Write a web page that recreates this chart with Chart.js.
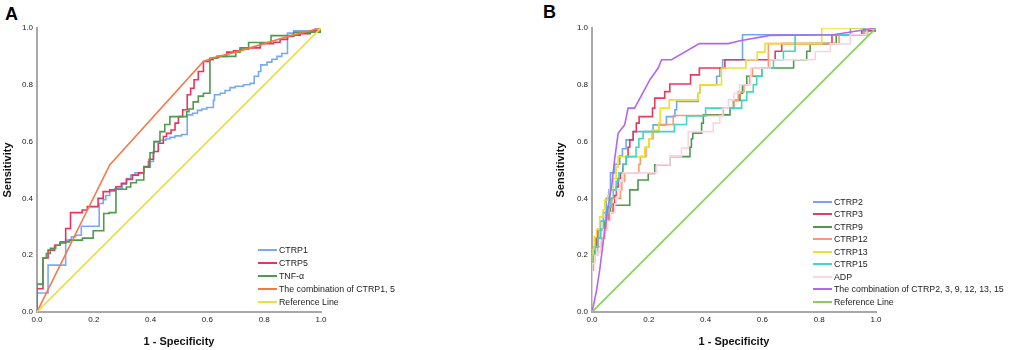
<!DOCTYPE html>
<html><head><meta charset="utf-8">
<script src="https://cdn.jsdelivr.net/npm/chart.js@4.4.1/dist/chart.umd.min.js"></script>
<style>
html,body{margin:0;padding:0;background:#fff;width:1021px;height:350px;overflow:hidden;font-family:"Liberation Sans",Arial,sans-serif;}
.panel{position:absolute;top:0;height:350px;}
#pa{left:0;width:510px;} #pb{left:552px;width:469px;}
.tag{position:absolute;font-weight:bold;font-size:18px;line-height:18px;color:#000;}
.legend{position:absolute;font-size:8.8px;color:#222;}
.legend .row{display:flex;align-items:center;white-space:nowrap;}
.legend .sw{width:19px;height:2px;margin-right:2px;flex:none;}
</style></head>
<body>
<div class="tag" style="left:5px;top:4.6px">A</div>
<div class="tag" style="left:543px;top:2.6px">B</div>
<div class="panel" id="pa"><canvas id="ca" width="510" height="350"></canvas></div>
<div class="panel" id="pb"><canvas id="cb" width="469" height="350"></canvas></div>
<div class="legend" id="la" style="left:258px;top:243px"></div>
<div class="legend" id="lb" style="left:813px;top:195.5px"></div>
<script>
// ---------- Panel A data (x = 1 - Specificity, y = Sensitivity) ----------
const aLabels = ['CTRP1', 'CTRP5', 'TNF-\u03b1', 'The combination of CTRP1, 5', 'Reference Line'];
const aCtrp1X = [0,0,0.039,0.101,0.121,0.136,0.156,0.219,0.233,0.242,0.256,0.274,0.30,0.315,0.33,0.345,0.376,0.392,0.41,0.412,0.433,0.454,0.468,0.486,0.509,0.529,0.548,0.565,0.58,0.598,0.621,0.625,0.645,0.662,0.68,0.698,0.727,0.75,0.765,0.78,0.788,0.81,0.827,0.845,0.862,0.882,0.904,0.98,1];
const aCtrp1Y = [0,0.067,0.165,0.253,0.265,0.27,0.302,0.382,0.395,0.41,0.425,0.435,0.45,0.47,0.482,0.49,0.51,0.53,0.56,0.60,0.605,0.61,0.615,0.62,0.625,0.694,0.70,0.71,0.715,0.72,0.745,0.765,0.77,0.78,0.79,0.795,0.80,0.805,0.83,0.847,0.87,0.88,0.89,0.90,0.91,0.982,0.99,1,1];
const aCtrp5X = [0,0,0.021,0.039,0.062,0.08,0.101,0.118,0.159,0.177,0.215,0.233,0.256,0.278,0.297,0.315,0.336,0.357,0.376,0.395,0.41,0.427,0.445,0.456,0.472,0.486,0.498,0.513,0.529,0.541,0.553,0.568,0.586,0.607,0.62,0.639,0.668,0.692,0.715,0.745,0.786,0.833,0.856,0.882,0.904,0.927,0.962,1];
const aCtrp5Y = [0,0.082,0.19,0.218,0.235,0.243,0.294,0.35,0.359,0.371,0.40,0.424,0.43,0.441,0.453,0.467,0.482,0.49,0.512,0.538,0.565,0.594,0.618,0.629,0.641,0.665,0.688,0.712,0.765,0.788,0.818,0.847,0.882,0.888,0.895,0.90,0.915,0.92,0.925,0.93,0.945,0.95,0.96,0.97,0.975,0.98,0.99,1];
const aTnfX = [0,0,0.021,0.033,0.047,0.066,0.082,0.115,0.16,0.198,0.235,0.254,0.278,0.315,0.33,0.35,0.376,0.398,0.412,0.433,0.45,0.468,0.527,0.535,0.55,0.568,0.586,0.609,0.633,0.70,0.715,0.745,0.824,0.904,1];
const aTnfY = [0,0.098,0.19,0.206,0.224,0.235,0.247,0.253,0.26,0.286,0.347,0.35,0.432,0.44,0.455,0.465,0.51,0.561,0.60,0.635,0.66,0.688,0.705,0.715,0.74,0.76,0.77,0.894,0.90,0.915,0.93,0.949,0.973,0.985,1];
const aComboX = [0,0.256,0.586,0.62,0.70,0.80,0.90,1];
const aComboY = [0,0.518,0.882,0.895,0.915,0.945,0.975,1];
const aRefX = [0,1];
const aRefY = [0,1];

// ---------- Panel B data ----------
const bLabels = ['CTRP2','CTRP3','CTRP9','CTRP12','CTRP13','CTRP15','ADP','The combination of CTRP2, 3, 9, 12, 13, 15','Reference Line'];
const bCtrp2X = [0,0,0.01,0.02,0.03,0.04,0.05,0.06,0.065,0.08,0.098,0.107,0.12,0.145,0.215,0.262,0.292,0.298,0.374,0.38,0.439,0.45,0.46,0.53,0.91,1];
const bCtrp2Y = [0,0.2,0.23,0.29,0.32,0.35,0.40,0.43,0.49,0.52,0.55,0.575,0.606,0.635,0.659,0.688,0.712,0.741,0.77,0.80,0.83,0.859,0.888,0.976,1,1];
const bCtrp3X = [0,0,0.008,0.015,0.02,0.05,0.06,0.074,0.08,0.086,0.092,0.10,0.109,0.121,0.127,0.133,0.145,0.156,0.166,0.213,0.221,0.256,0.274,0.347,0.378,0.468,0.645,0.668,0.845,0.95,1];
const bCtrp3Y = [0,0.19,0.23,0.26,0.29,0.32,0.35,0.38,0.41,0.44,0.47,0.49,0.52,0.547,0.58,0.606,0.635,0.665,0.688,0.718,0.753,0.776,0.803,0.835,0.859,0.888,0.918,0.945,0.976,0.99,1];
const bCtrp9X = [0,0,0.005,0.01,0.02,0.03,0.045,0.055,0.065,0.133,0.162,0.198,0.221,0.274,0.345,0.35,0.355,0.386,0.392,0.486,0.498,0.521,0.53,0.545,0.598,0.71,0.756,0.768,0.86,0.97,1];
const bCtrp9Y = [0,0.18,0.2,0.23,0.26,0.29,0.32,0.35,0.376,0.43,0.465,0.488,0.518,0.547,0.58,0.61,0.63,0.665,0.694,0.718,0.745,0.77,0.80,0.83,0.859,0.888,0.918,0.945,0.976,1,1];
const bCtrp12X = [0,0,0.005,0.01,0.02,0.035,0.045,0.05,0.055,0.06,0.07,0.10,0.105,0.115,0.165,0.17,0.19,0.20,0.215,0.235,0.286,0.462,0.50,0.515,0.535,0.555,0.565,0.621,0.87,0.96,1];
const bCtrp12Y = [0,0.147,0.18,0.2,0.23,0.26,0.29,0.32,0.35,0.37,0.40,0.43,0.46,0.49,0.52,0.547,0.58,0.61,0.635,0.66,0.692,0.718,0.745,0.775,0.80,0.83,0.859,0.945,0.976,1,1];
const bCtrp13X = [0,0,0.004,0.008,0.016,0.027,0.039,0.045,0.055,0.063,0.075,0.085,0.092,0.185,0.20,0.21,0.235,0.24,0.272,0.374,0.38,0.456,0.542,0.582,0.609,0.809,1];
const bCtrp13Y = [0,0.2,0.22,0.265,0.29,0.335,0.36,0.394,0.41,0.43,0.47,0.51,0.547,0.58,0.61,0.64,0.665,0.718,0.747,0.77,0.80,0.859,0.888,0.915,0.945,1,1];
const bCtrp15X = [0,0,0.005,0.012,0.02,0.03,0.04,0.048,0.055,0.065,0.075,0.085,0.095,0.11,0.12,0.155,0.165,0.18,0.29,0.333,0.40,0.527,0.545,0.568,0.58,0.598,0.639,0.674,0.715,0.956,1];
const bCtrp15Y = [0,0.17,0.2,0.23,0.26,0.29,0.32,0.35,0.37,0.40,0.43,0.46,0.49,0.52,0.547,0.58,0.61,0.635,0.66,0.69,0.718,0.745,0.775,0.80,0.83,0.859,0.888,0.918,0.976,1,1];
const bAdpX = [0,0,0.01,0.02,0.03,0.04,0.055,0.065,0.08,0.085,0.09,0.10,0.11,0.227,0.274,0.315,0.339,0.427,0.45,0.46,0.48,0.50,0.52,0.559,0.627,0.786,0.839,0.909,0.968,1];
const bAdpY = [0,0.17,0.2,0.21,0.25,0.29,0.32,0.35,0.38,0.40,0.43,0.46,0.49,0.518,0.547,0.577,0.635,0.665,0.69,0.718,0.747,0.77,0.80,0.859,0.888,0.917,0.944,0.976,1,1];
const bComboX = [0,0.015,0.027,0.04,0.055,0.07,0.08,0.092,0.115,0.127,0.15,0.204,0.233,0.245,0.28,0.378,0.48,0.521,0.627,0.85,1];
const bComboY = [0,0.07,0.147,0.25,0.36,0.45,0.54,0.629,0.659,0.718,0.718,0.818,0.859,0.888,0.888,0.945,0.945,0.955,0.974,0.976,1];
const bRefX = [0,1];
const bRefY = [0,1];

const aColors = ['#78aaf0','#e8335e','#4e9a4e','#f4794a','#ece13a'];
const bColors = ['#72a6ee','#e43c5c','#4f9a4f','#f69b72','#eee030','#3fd6c2','#fcd3e1','#b266f2','#86d05e'];

const FONT = '"Liberation Sans", Arial, sans-serif';
const pts = (xs, ys) => xs.map((x, i) => ({x: x, y: ys[i]}));

function makeDatasets(labels, colors, series, stepFlags) {
  const n = series.length;
  return series.map((s, i) => ({
    label: labels[i],
    data: pts(s[0], s[1]),
    borderColor: colors[i],
    backgroundColor: colors[i],
    borderWidth: 1.6,
    pointRadius: 0,
    fill: false,
    tension: 0,
    stepped: stepFlags[i] ? 'before' : false,
    order: n - i
  }));
}

function axis(title, isY, yWidth, titlePad) {
  return {
    type: 'linear', min: 0, max: 1,
    grid: {display: false, drawTicks: false},
    border: {display: true, color: '#a8a8a8', width: 2},
    ticks: {stepSize: 0.2, padding: isY ? 4 : 2.5, color: '#1a1a1a', autoSkip: false, maxRotation: 0,
      font: {family: FONT, size: 8}, callback: v => Number(v).toFixed(1)},
    title: {display: true, text: title, color: '#111',
      font: {family: FONT, size: 11, weight: 'bold'},
      padding: isY ? {top: titlePad, bottom: 0} : {top: 0, bottom: 1.0}},
    afterFit: s => { if (isY) s.width = yWidth; else s.height = 38; }
  };
}

function makeChart(id, datasets, yWidth, titlePad, padRight) {
  return new Chart(document.getElementById(id), {
    type: 'line',
    data: {datasets: datasets},
    options: {
      responsive: false, animation: false, devicePixelRatio: 1,
      parsing: false, normalized: true,
      layout: {padding: {left: 0, right: padRight, top: 28, bottom: 0}},
      plugins: {legend: {display: false}, tooltip: {enabled: false}},
      scales: {x: axis('1 - Specificity', false), y: axis('Sensitivity', true, yWidth, titlePad)}
    }
  });
}

function makeLegend(id, labels, colors, rowH) {
  const el = document.getElementById(id);
  labels.forEach((lab, i) => {
    const row = document.createElement('div');
    row.className = 'row';
    row.style.height = rowH + 'px';
    const sw = document.createElement('span');
    sw.className = 'sw';
    sw.style.background = colors[i];
    const tx = document.createElement('span');
    tx.textContent = lab;
    row.appendChild(sw); row.appendChild(tx);
    el.appendChild(row);
  });
}

const aSeries = [[aCtrp1X,aCtrp1Y],[aCtrp5X,aCtrp5Y],[aTnfX,aTnfY],[aComboX,aComboY],[aRefX,aRefY]];
const aStep = [true,true,true,false,false];
const bSeries = [[bCtrp2X,bCtrp2Y],[bCtrp3X,bCtrp3Y],[bCtrp9X,bCtrp9Y],[bCtrp12X,bCtrp12Y],[bCtrp13X,bCtrp13Y],[bCtrp15X,bCtrp15Y],[bAdpX,bAdpY],[bComboX,bComboY],[bRefX,bRefY]];
const bStep = [true,true,true,true,true,true,true,false,false];

makeChart('ca', makeDatasets(aLabels, aColors, aSeries, aStep), 37, 1.7, 189);
makeChart('cb', makeDatasets(bLabels, bColors, bSeries, bStep), 40, 2.4, 145);
makeLegend('la', aLabels, aColors, 13);
makeLegend('lb', bLabels, bColors, 12.5);
</script>
</body></html>
